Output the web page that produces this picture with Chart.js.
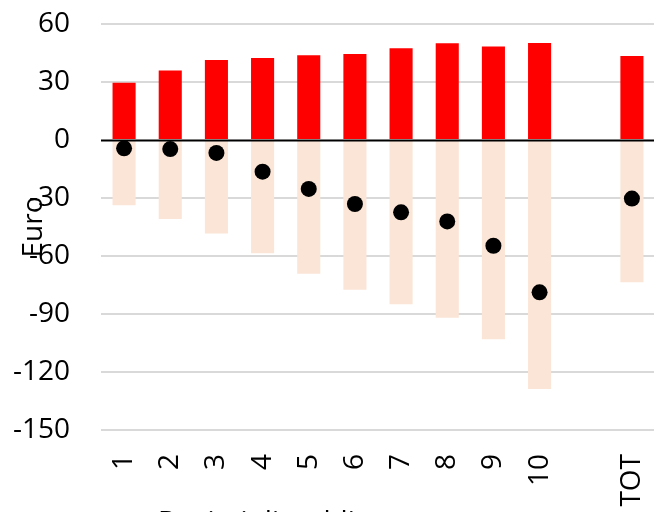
<!DOCTYPE html>
<html>
<head>
<meta charset="utf-8">
<script src="https://cdn.jsdelivr.net/npm/chart.js@4/dist/chart.umd.min.js"></script>
<style>
html, body { margin: 0; padding: 0; overflow: hidden; background: #fff; }
</style>
</head>
<body>
<canvas id="myChart" width="663" height="540"></canvas>
<script>
// decili + totale (la colonna vuota fa da separatore)
const labels = ['1', '2', '3', '4', '5', '6', '7', '8', '9', '10', '', 'TOT'];
const gains = [29.6, 36.0, 41.4, 42.4, 43.8, 44.5, 47.4, 50.0, 48.4, 50.2, null, 43.4];
const losses = [-33.8, -40.9, -48.3, -58.6, -69.2, -77.4, -85.0, -91.9, -103.1, -128.8, null, -73.6];
const net = [-4.3, -4.7, -6.7, -16.4, -25.3, -33.1, -37.4, -42.1, -54.7, -78.8, null, -30.3];
const yMin = -150, yMax = 60, yStep = 30;
const yTitle = 'Euro';
const xTitle = 'Decimi di reddito';

const FONT = "'Open Sans', sans-serif";

// zero line on top of the bars, and the two axis titles placed like the original
const extras = {
    id: 'extras',
    beforeDatasetDraw(chart, args) {
        if (args.meta.type !== 'line') return;
        const ctx = chart.ctx, a = chart.chartArea;
        const y0 = Math.round(chart.scales.y.getPixelForValue(0)) + 0.5;
        ctx.save();
        ctx.strokeStyle = '#000';
        ctx.lineWidth = 1.8;
        ctx.beginPath();
        ctx.moveTo(a.left, y0);
        ctx.lineTo(a.right, y0);
        ctx.stroke();
        ctx.restore();
    },
    afterDraw(chart) {
        const ctx = chart.ctx, a = chart.chartArea;
        ctx.save();
        ctx.fillStyle = '#000';
        ctx.font = '28px ' + FONT;
        ctx.textBaseline = 'middle';
        ctx.textAlign = 'center';
        ctx.translate(34, (a.top + a.bottom) / 2);
        ctx.rotate(-Math.PI / 2);
        ctx.fillText(yTitle, 0, 0);
        ctx.restore();
        ctx.save();
        ctx.fillStyle = '#000';
        ctx.font = '28px ' + FONT;
        ctx.textBaseline = 'alphabetic';
        ctx.textAlign = 'left';
        ctx.fillText(xTitle, 158, 530.5);
        ctx.restore();
    }
};

const ctx = document.getElementById('myChart').getContext('2d');
const myChart = new Chart(ctx, {
    type: 'bar',
    data: {
        labels: labels,
        datasets: [{
            type: 'line',
            label: 'Netto',
            data: net,
            showLine: false,
            pointRadius: 8,
            pointHoverRadius: 8,
            pointBackgroundColor: '#000',
            pointBorderWidth: 0,
            order: 0,
        }, {
            label: 'Guadagni',
            data: gains,
            backgroundColor: '#ff0000',
            order: 1,
        }, {
            label: 'Perdite',
            data: losses,
            backgroundColor: '#fbe5d6',
            order: 2,
        }]
    },
    options: {
        responsive: false,
        animation: false,
        events: [],
        layout: { padding: { top: 24, right: 0, bottom: 0, left: 0 } },
        datasets: {
            bar: { categoryPercentage: 1, barPercentage: 0.5 }
        },
        scales: {
            x: {
                stacked: true,
                grid: { display: false },
                border: { display: false },
                afterFit: (s) => { s.height = 110; s.paddingLeft = 0; s.paddingRight = 0; },
                ticks: {
                    autoSkip: false,
                    minRotation: 90,
                    maxRotation: 90,
                    padding: 16,
                    color: '#000',
                    font: { family: FONT, size: 28 },
                },
            },
            y: {
                min: yMin,
                max: yMax,
                border: { display: false },
                afterFit: (s) => { s.width = 101; s.paddingTop = 0; s.paddingBottom = 0; },
                grid: {
                    drawTicks: false,
                    color: (c) => c.tick && c.tick.value === 0 ? 'rgba(0,0,0,0)' : '#d9d9d9',
                    lineWidth: 2,
                },
                ticks: {
                    stepSize: yStep,
                    padding: 31,
                    color: '#000',
                    font: { family: FONT, size: 28 },
                },
            },
        },
        plugins: {
            legend: { display: false },
            tooltip: { enabled: false },
            title: { display: false },
        }
    },
    plugins: [extras]
});
</script>
</body>
</html>
